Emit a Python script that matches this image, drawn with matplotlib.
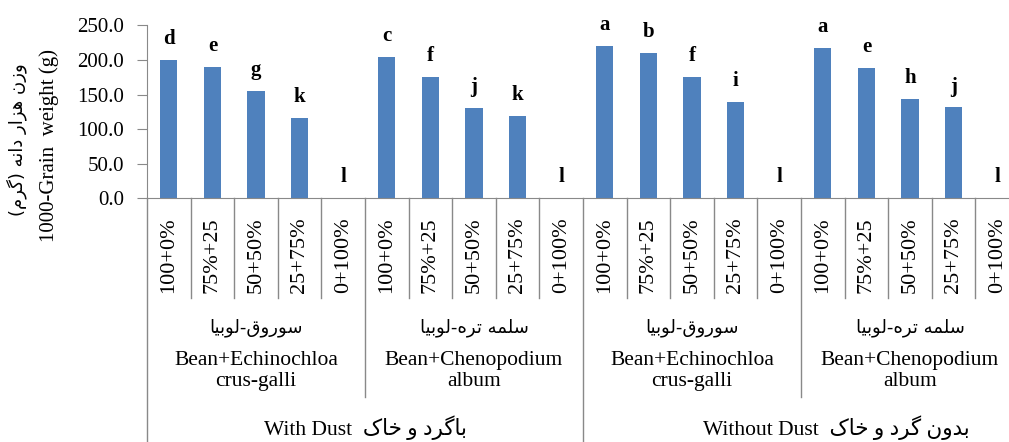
import matplotlib.pyplot as plt
from matplotlib.ticker import FormatStrFormatter

plt.rcParams['font.family'] = ['Liberation Serif', 'DejaVu Sans']

# data
categories = ['100+0%', '75%+25', '50+50%', '25+75%', '0+100%'] * 4
weights = [200.0, 190.0, 155.5, 116.5, 0.0,
           204.5, 175.5, 131.0, 119.0, 0.0,
           220.0, 210.5, 176.0, 139.0, 0.0,
           218.0, 188.0, 143.5, 131.5, 0.0]
letters = ['d', 'e', 'g', 'k', 'l', 'c', 'f', 'j', 'k', 'l',
           'a', 'b', 'f', 'i', 'l', 'a', 'e', 'h', 'j', 'l']
mixtures_fa = ['سوروق-لوبیا', 'سلمه تره-لوبیا'] * 2
mixtures_en = ['Bean+Echinochloa\ncrus-galli', 'Bean+Chenopodium\nalbum'] * 2
dust_en = ['With Dust', 'Without Dust']
dust_fa = ['باگرد و خاک', 'بدون گرد و خاک']
ylabel_fa = 'وزن هزار دانه (گرم)'
ylabel_en = '1000-Grain  weight (g)'

# matplotlib does no arabic shaping, so pick the presentation forms by hand
# (isolated, final, initial, medial); no initial form = joins to the right only
FORMS = {
    'ا': ('\uFE8D', '\uFE8E', None, None),
    'ب': ('\uFE8F', '\uFE90', '\uFE91', '\uFE92'),
    'ت': ('\uFE95', '\uFE96', '\uFE97', '\uFE98'),
    'خ': ('\uFEA5', '\uFEA6', '\uFEA7', '\uFEA8'),
    'د': ('\uFEA9', '\uFEAA', None, None),
    'ر': ('\uFEAD', '\uFEAE', None, None),
    'ز': ('\uFEAF', '\uFEB0', None, None),
    'س': ('\uFEB1', '\uFEB2', '\uFEB3', '\uFEB4'),
    'ق': ('\uFED5', '\uFED6', '\uFED7', '\uFED8'),
    'ل': ('\uFEDD', '\uFEDE', '\uFEDF', '\uFEE0'),
    'م': ('\uFEE1', '\uFEE2', '\uFEE3', '\uFEE4'),
    'ن': ('\uFEE5', '\uFEE6', '\uFEE7', '\uFEE8'),
    'ه': ('\uFEE9', '\uFEEA', '\uFEEB', '\uFEEC'),
    'و': ('\uFEED', '\uFEEE', None, None),
    'ک': ('\uFB8E', '\uFB8F', '\uFB90', '\uFB91'),
    'گ': ('\uFB92', '\uFB93', '\uFB94', '\uFB95'),
    'ی': ('\uFBFC', '\uFBFD', '\uFBFE', '\uFBFF'),
}


def farsi(text):
    out = []
    for i, ch in enumerate(text):
        if ch not in FORMS:
            out.append(ch)
            continue
        iso, fin, ini, med = FORMS[ch]
        prev = text[i - 1] if i > 0 else ''
        nxt = text[i + 1] if i + 1 < len(text) else ''
        join_prev = prev in FORMS and FORMS[prev][2] is not None
        join_next = nxt in FORMS and ini is not None
        if join_prev and join_next:
            out.append(med)
        elif join_prev:
            out.append(fin)
        elif join_next:
            out.append(ini)
        else:
            out.append(iso)
    mirror = {'(': ')', ')': '('}
    return ''.join(mirror.get(c, c) for c in reversed(out))


W, H = 1009, 442
fig = plt.figure(figsize=(W / 100, H / 100), dpi=100)
# plot area runs past the right edge of the picture, like the reference
ax = fig.add_axes([147 / W, 1 - 198.3 / H, (1019 - 147) / W, (198.3 - 25.4) / H])

x = list(range(len(weights)))
ax.bar(x, weights, width=0.39, color='#4F81BD')
for xi, v, lab in zip(x, weights, letters):
    ax.annotate(lab, (xi, v), xytext=(0, 15), textcoords='offset points',
                ha='center', va='center', fontsize=15, fontweight='bold')

ax.set_xlim(-0.5, len(weights) - 0.5)
ax.set_ylim(0, 250)
ax.set_yticks(range(0, 251, 50))
ax.yaxis.set_major_formatter(FormatStrFormatter('%.1f'))

grey = '#898989'
for side in ['top', 'right']:
    ax.spines[side].set_visible(False)
for side in ['left', 'bottom']:
    ax.spines[side].set_color(grey)
ax.tick_params(axis='y', direction='out', length=7.5, color=grey, labelsize=15, pad=9)

ax.set_xticks(x, categories, rotation=90, va='center')
ax.tick_params(axis='x', length=0, pad=41, labelsize=16)

# multi-level category separators
tr = ax.get_xaxis_transform()
n = len(weights)
for b in range(n + 1):
    edge = b - 0.5
    if b % 10 == 0:
        bottom = -1.6
    elif b % 5 == 0:
        bottom = -1.149
    else:
        bottom = -0.577
    ax.plot([edge, edge], [0, bottom], transform=tr, clip_on=False, color=grey, lw=1)

for g in range(4):
    cx = g * 5 + 2
    ax.text(cx, -0.75, farsi(mixtures_fa[g]), transform=tr, ha='center', va='center',
            fontsize=13, family='DejaVu Sans')
    ax.text(cx, -1.0, mixtures_en[g], transform=tr, ha='center', va='center',
            fontsize=15.5, linespacing=1.15)

dust_x = [4.5, 15.3]
for k in range(2):
    ax.text(dust_x[k], -1.329, dust_en[k] + '  ' + farsi(dust_fa[k]), transform=tr,
            ha='center', va='center', fontsize=15.5)

fig.text(17 / W, 1 - 140 / H, farsi(ylabel_fa), rotation=90, ha='center', va='center',
         fontsize=13, family='DejaVu Sans')
fig.text(49 / W, 1 - 145 / H, ylabel_en, rotation=90, ha='center', va='center', fontsize=15)

fig.savefig('out.png', dpi=100)
